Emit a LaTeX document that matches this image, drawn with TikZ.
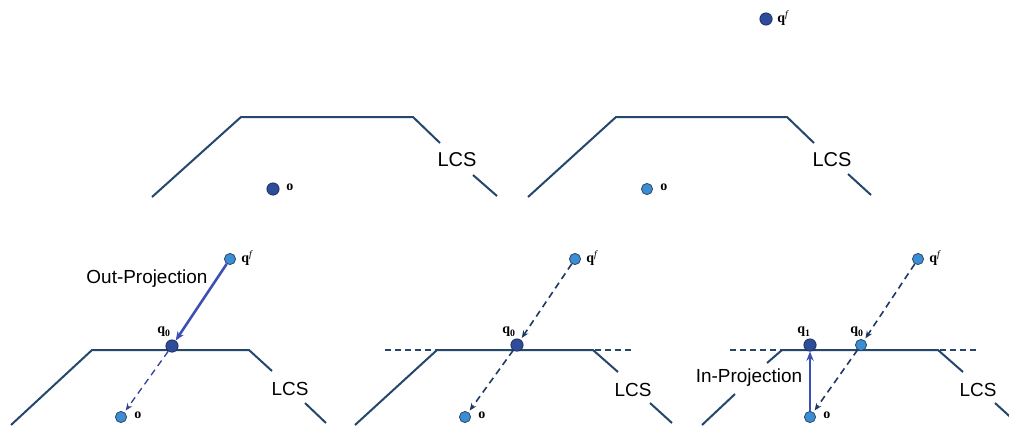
\documentclass[tikz,border=0pt]{standalone}
\usepackage{fontspec}
\setmainfont{Liberation Serif}
\newfontfamily\labelsans{Liberation Sans}
\usetikzlibrary{arrows.meta}

\definecolor{lcsline}{HTML}{24476B}
\definecolor{darkdot}{HTML}{2F4C9A}
\definecolor{darkrim}{HTML}{1E2E5E}
\definecolor{lightdot}{HTML}{3C8DD3}
\definecolor{lightrim}{HTML}{2C4A68}
\definecolor{projblue}{HTML}{3C50B4}
\definecolor{dashnavy}{HTML}{1F3864}

\newcommand{\qf}{\textbf{q}\textsuperscript{\normalfont\itshape f}}
\newcommand{\qsub}[1]{\textbf{q}\textsubscript{\textbf{#1}}}

\tikzset{
  lcs/.style={draw=lcsline, line width=1.5pt, line join=miter},
  ext/.style={draw=lcsline, line width=1.1pt, dash pattern=on 4.5pt off 3pt},
  darkpt/.style={circle, inner sep=0pt, minimum size=9.2pt, fill=darkdot, draw=darkrim, line width=0.6pt},
  lightpt/.style={circle, inner sep=0pt, minimum size=8.4pt, fill=lightdot, draw=lightrim, line width=0.6pt},
  ptlabel/.style={inner sep=0pt, font=\fontsize{10.5}{12}\selectfont\bfseries},
  biglabel/.style={inner sep=0pt, font=\labelsans\fontsize{15}{17}\selectfont},
  lowlabel/.style={inner sep=0pt, font=\labelsans\fontsize{14.2}{16}\selectfont},
  proj/.style={draw=projblue, line width=1.9pt, -{Stealth[length=7pt,width=5.5pt]}},
  trace/.style={draw=dashnavy, line width=1.2pt, dash pattern=on 5pt off 3.5pt,
    -{Stealth[length=5.5pt,width=4.5pt]}, shorten >=1.5pt},
}

\begin{document}
\begin{tikzpicture}[x=0.75pt, y=-0.75pt]
\useasboundingbox (0,0) rectangle (1009,426);

% ---------- upper left: LCS with origin ----------
\draw[lcs] (152,197) -- (241,117) -- (413,117) -- (440,143);
\draw[lcs] (473,175) -- (497,196);
\node[biglabel] (lcsA) at (457,160) {LCS};
\node[darkpt] (oA) at (273,189) {};
\node[ptlabel, anchor=west] (oAl) at (286,187) {o};

% ---------- upper right: LCS with feature point ----------
\draw[lcs] (528,197) -- (616,117) -- (787,117) -- (814,143);
\draw[lcs] (848,174) -- (871,195);
\node[biglabel] (lcsB) at (832,160) {LCS};
\node[lightpt] (oB) at (647,189) {};
\node[ptlabel, anchor=west] (oBl) at (660,187) {o};
\node[darkpt] (qfB) at (766,19) {};
\node[ptlabel, anchor=west] (qfBl) at (777,18) {\qf};

% ---------- lower left: out-projection ----------
\draw[lcs] (11,425) -- (92,350) -- (249,350) -- (272,371);
\draw[lcs] (305,403) -- (326,423);
\node[lowlabel] (lcsC) at (290,389) {LCS};
\node[lightpt] (qfC) at (230,259) {};
\node[ptlabel, anchor=west] (qfCl) at (241,258) {\qf};
\node[darkpt] (q0C) at (172,346) {};
\node[ptlabel] (q0Cl) at (164,332) {\qsub{0}};
\node[lightpt] (oC) at (121,417) {};
\node[ptlabel, anchor=west] (oCl) at (134,415) {o};
\node[lowlabel] (outp) at (147,279) {Out-Projection};
\draw[proj] (qfC) -- (q0C);
\draw[trace, draw=projblue!85!black, line width=1pt] (q0C) -- (oC);

% ---------- lower middle: projection line through q0 ----------
\draw[ext] (385,350) -- (633,350);
\draw[lcs] (355,425) -- (437,350) -- (593,350) -- (618,372);
\draw[lcs] (650,403) -- (672,423);
\node[lowlabel] (lcsD) at (633,390) {LCS};
\node[lightpt] (qfD) at (575,259) {};
\node[ptlabel, anchor=west] (qfDl) at (586,258) {\qf};
\node[darkpt] (q0D) at (517,345) {};
\node[ptlabel] (q0Dl) at (509,332) {\qsub{0}};
\node[lightpt] (oD) at (465,417) {};
\node[ptlabel, anchor=west] (oDl) at (478,415) {o};
\draw[trace] (qfD) -- (q0D);
\draw[trace] (q0D) -- (oD);

% ---------- lower right: in-projection ----------
\draw[ext] (730,350) -- (977,350);
\draw[lcs] (702,425) -- (735,394);
\draw[lcs] (767,363) -- (782,350) -- (938,350) -- (963,372);
\draw[lcs] (995,403) -- (1018,424);
\node[lowlabel] (lcsE) at (978,390) {LCS};
\node[lightpt] (qfE) at (918,259) {};
\node[ptlabel, anchor=west] (qfEl) at (929,258) {\qf};
\node[lightpt] (q0E) at (861,345) {};
\node[ptlabel] (q0El) at (857,332) {\qsub{0}};
\node[darkpt] (q1E) at (810,345) {};
\node[ptlabel] (q1El) at (804,332) {\qsub{1}};
\node[lightpt] (oE) at (810,417) {};
\node[ptlabel, anchor=west] (oEl) at (823,415) {o};
\node[lowlabel] (inp) at (749,378) {In-Projection};
\draw[trace] (qfE) -- (q0E);
\draw[trace] (q0E) -- (oE);
\draw[proj] (oE) -- (q1E);
\end{tikzpicture}
\end{document}
